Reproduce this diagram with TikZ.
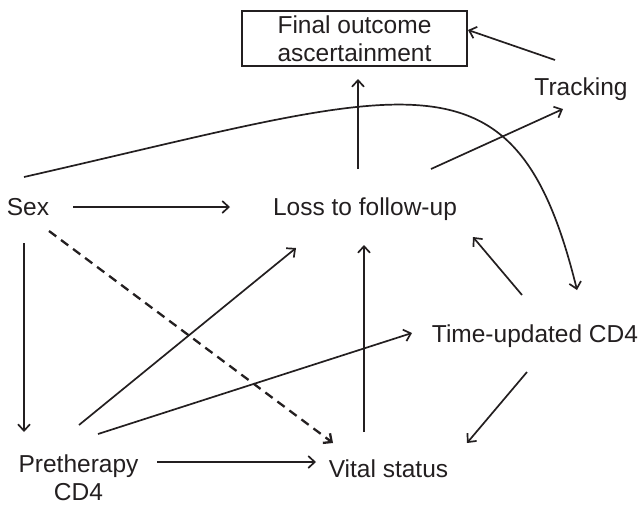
\documentclass[tikz,border=0pt]{standalone}
\usepackage{fontspec}
\setmainfont{Liberation Sans}
\usetikzlibrary{arrows.meta}
\definecolor{ink}{HTML}{231F20}
\begin{document}
\begin{tikzpicture}[x=1pt,y=-1pt,
  lbl/.style={inner sep=0pt, anchor=base, text=ink, font=\fontsize{24.5}{27.3}\selectfont},
  arr/.style={draw=ink, line width=1.7pt, -{Straight Barb[length=6.5pt,width=12pt]}},
  dasharr/.style={arr, line width=2.3pt, dash pattern=on 9pt off 6pt},
  finalbox/.style={lbl, draw=ink, line width=2pt, minimum width=225pt,
    text height=22.3pt, text depth=32.7pt, font=\fontsize{24.5}{28.4}\selectfont}
]
\useasboundingbox (0,0) rectangle (638,504);

\node[finalbox] (final) at (354.5,33.3) {\begin{tabular}[t]{@{}c@{}}Final outcome\\ascertainment\end{tabular}};
\node[lbl] (track) at (581,95) {Tracking};
\node[lbl] (sex) at (28,215.6) {Sex};
\node[lbl] (ltfu) at (365,215.6) {Loss to follow-up};
\node[lbl] (tucd4) at (535,342.7) {Time-updated CD4};
\node[lbl] (vital) at (388.5,477) {Vital status};
\node[lbl] (pre) at (78.5,472.7) {\begin{tabular}[t]{@{}c@{}}Pretherapy\\CD4\end{tabular}};

% Sex
\draw[arr] ([shift={(45,-8.6)}]sex.base) -- ([shift={(-135,-8.6)}]ltfu.base);
\draw[arr] ([shift={(-4,27.4)}]sex.base) -- ([shift={(-54.5,-40.7)}]pre.base);
\draw[dasharr] ([shift={(21,15.4)}]sex.base) -- ([shift={(-55.5,-34)}]vital.base);
\draw[arr] ([shift={(-4,-38.6)}]sex.base) .. controls ([shift={(384,-127)}]sex.base) and ([shift={(-20,-304.7)}]tucd4.base) .. ([shift={(42,-52.7)}]tucd4.base);

% Loss to follow-up
\draw[arr] ([shift={(-7,-46.6)}]ltfu.base) -- ([shift={(3.5,45.7)}]final.base);
\draw[arr] ([shift={(66,-46.6)}]ltfu.base) -- ([shift={(-18,14)}]track.base);

% Tracking
\draw[arr] ([shift={(-26,-35)}]track.base) -- ([shift={(113.5,-3.3)}]final.base);

% Vital status
\draw[arr] ([shift={(-24.5,-45)}]vital.base) -- ([shift={(-1,29.4)}]ltfu.base);

% Pretherapy CD4
\draw[arr] ([shift={(0.5,-47.7)}]pre.base) -- ([shift={(-69,32.4)}]ltfu.base);
\draw[arr] ([shift={(19.5,-38.7)}]pre.base) -- ([shift={(-123,-9.7)}]tucd4.base);
\draw[arr] ([shift={(78.5,-10.7)}]pre.base) -- ([shift={(-72.5,-15)}]vital.base);

% Time-updated CD4
\draw[arr] ([shift={(-13,-47.7)}]tucd4.base) -- ([shift={(108,21.4)}]ltfu.base);
\draw[arr] ([shift={(-8,29.3)}]tucd4.base) -- ([shift={(78.5,-34)}]vital.base);
\end{tikzpicture}
\end{document}
